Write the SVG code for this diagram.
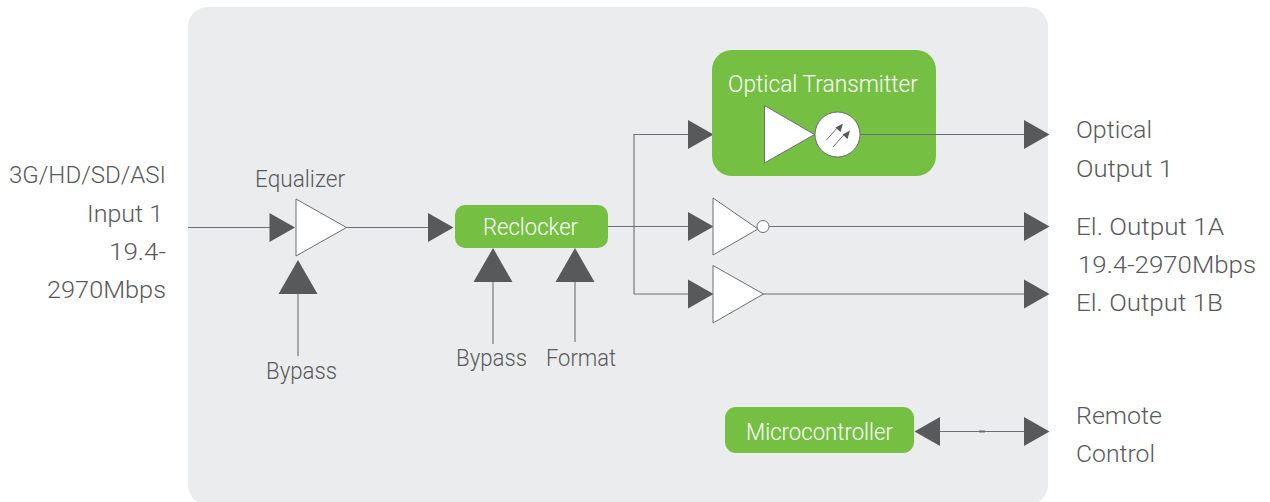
<svg xmlns="http://www.w3.org/2000/svg" width="1270" height="502" viewBox="0 0 1270 502">
<style>
text{font-family:"Roboto","Noto Sans",sans-serif;font-size:24px;font-weight:300;fill:#58595b}
.w{fill:#fff}
.l{fill:none;stroke:#6d6e71;stroke-width:1.100}
.a{fill:#58595b}
.t{fill:#fff;stroke:#6d6e71;stroke-width:1}
.g{fill:#75bf43}
</style>
<defs>
<path id="ar" class="a" d="M0-14.500L25.500 0L0 14.500Z"/>
<path id="au" class="a" d="M0 0L19.500 34H-19.500Z"/>
</defs>
<rect id="panel" x="188" y="7" width="860" height="498" rx="20" fill="#ebecee"/>
<g id="connectors">
<path class="l" d="M188 227.500H270M346 227.500H430M608 226.500H690M634 294V134.500H690M634 294H690M860 134.500H1026M769 226.500H1026M763 294H1026M938 431.500H1026"/>
<path class="l" d="M298 294V356M493 282V344M575 282V342"/>
<path d="M979 431.500H985" stroke="#6d6e71" stroke-width="2"/>
<use href="#ar" x="269.500" y="227.500"/><use href="#ar" x="428" y="227.500"/>
<use href="#ar" x="688" y="134.500"/><use href="#ar" x="688" y="226.500"/><use href="#ar" x="688" y="294"/>
<use href="#ar" x="1024" y="134.500"/><use href="#ar" x="1024" y="226.500"/><use href="#ar" x="1024" y="294"/><use href="#ar" x="1024" y="431.500"/>
<use href="#ar" transform="translate(940 431.500) scale(-1 1)"/>
<use href="#au" x="298" y="260"/><use href="#au" x="493" y="248"/><use href="#au" x="575" y="248"/>
</g>
<g id="input-label">
<text x="166" y="183" text-anchor="end" textLength="157" lengthAdjust="spacingAndGlyphs">3G/HD/SD/ASI</text>
<text x="163" y="222" text-anchor="end" textLength="76" lengthAdjust="spacingAndGlyphs">Input 1</text>
<text x="166" y="260" text-anchor="end" textLength="57" lengthAdjust="spacingAndGlyphs">19.4-</text>
<text x="166" y="298" text-anchor="end" textLength="119" lengthAdjust="spacingAndGlyphs">2970Mbps</text>
</g>
<g id="equalizer">
<path class="t" d="M296 199V256L346.500 227.500Z"/>
<text x="255" y="187" textLength="90" lengthAdjust="spacingAndGlyphs">Equalizer</text>
</g>
<text id="bypass-1" x="266" y="379" textLength="71" lengthAdjust="spacingAndGlyphs">Bypass</text>
<g id="reclocker">
<rect class="g" x="455" y="205" width="153" height="43" rx="10"/>
<text class="w" x="483" y="235" textLength="95" lengthAdjust="spacingAndGlyphs">Reclocker</text>
</g>
<text id="bypass-2" x="456" y="366" textLength="71" lengthAdjust="spacingAndGlyphs">Bypass</text>
<text id="format" x="546" y="366" textLength="70" lengthAdjust="spacingAndGlyphs">Format</text>
<g id="optical-transmitter">
<rect class="g" x="712" y="50" width="224" height="126" rx="20"/>
<text class="w" x="728" y="92" textLength="190" lengthAdjust="spacingAndGlyphs">Optical Transmitter</text>
<path class="t" d="M764.500 105.500V163L814.500 134.500Z"/>
<circle class="t" cx="837.500" cy="134.500" r="22.500"/>
<path d="M826 140.500L838 127M833 147L845 133.500" stroke="#6d6e71" fill="none"/>
<path class="a" d="M843 123.500L840.500 132L835.500 127.500ZM850 130.500L847.500 139L842.500 134.500Z"/>
<path class="l" d="M860 134.500H936"/>
</g>
<g id="inverter">
<path class="t" d="M713 198V255L758 229Z"/>
<circle class="t" cx="763" cy="226.500" r="6"/>
</g>
<g id="buffer">
<path class="t" d="M713 265.500V323L763.500 294Z"/>
</g>
<g id="microcontroller">
<rect class="g" x="725" y="407" width="189" height="46" rx="11"/>
<text class="w" x="746" y="440" textLength="147" lengthAdjust="spacingAndGlyphs">Microcontroller</text>
</g>
<g id="outputs">
<text x="1076" y="138" textLength="76" lengthAdjust="spacingAndGlyphs">Optical</text>
<text x="1076" y="177" textLength="97" lengthAdjust="spacingAndGlyphs">Output 1</text>
<text x="1076" y="235" textLength="148" lengthAdjust="spacingAndGlyphs">El. Output 1A</text>
<text x="1078" y="273" textLength="178" lengthAdjust="spacingAndGlyphs">19.4-2970Mbps</text>
<text x="1076" y="311" textLength="147" lengthAdjust="spacingAndGlyphs">El. Output 1B</text>
<text x="1076" y="424" textLength="86" lengthAdjust="spacingAndGlyphs">Remote</text>
<text x="1076" y="462" textLength="79" lengthAdjust="spacingAndGlyphs">Control</text>
</g>
</svg>
